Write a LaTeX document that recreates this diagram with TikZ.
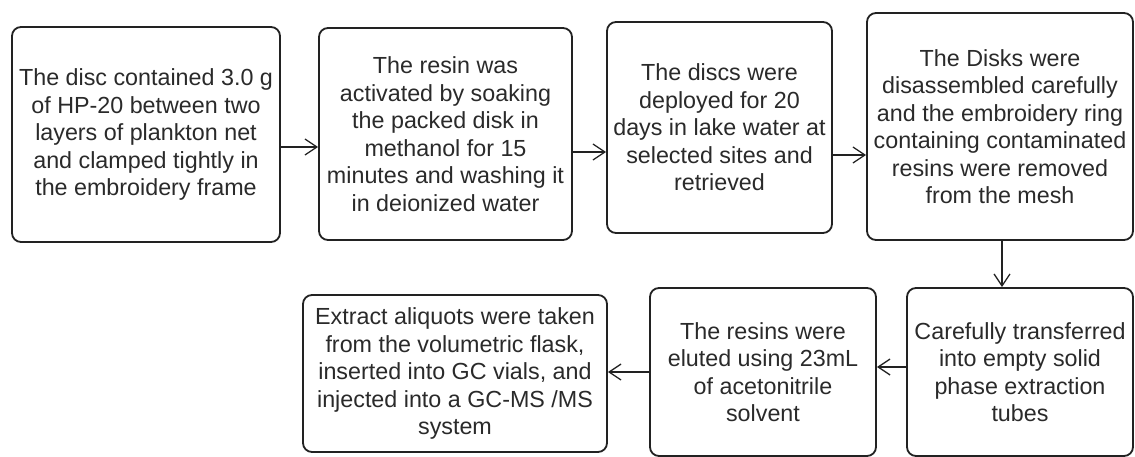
\documentclass[tikz,border=0pt]{standalone}
\usepackage{fontspec}
\setmainfont{Liberation Sans}
\usetikzlibrary{arrows.meta}
\definecolor{ink}{HTML}{222222}
\definecolor{txt}{HTML}{2A2A2A}
\tikzset{
  stepbox/.style={draw=ink, line width=1.8pt, rounded corners=9pt, fill=white,
    align=center, inner sep=0pt, text=txt,
    font=\fontsize{23.3}{27.5}\selectfont},
  arr/.style={draw=ink, line width=1.3pt, -{Straight Barb[length=12pt,width=16pt,line width=1.3pt]}}
}
\begin{document}
\begin{tikzpicture}[x=1pt,y=-1pt]
\useasboundingbox (0,0) rectangle (1135,457);
\fill[white] (0,0) rectangle (1135,457);

\node[stepbox, minimum width=268pt, minimum height=215pt] (b1) at (146,134.5)
  {The disc contained 3.0 g\\of HP-20 between two\\layers of plankton net\\and clamped tightly in\\the embroidery frame};
\node[stepbox, minimum width=253pt, minimum height=212pt] (b2) at (445.5,134)
  {The resin was\\activated by soaking\\the packed disk in\\methanol for 15\\minutes and washing it\\in deionized water};
\node[stepbox, minimum width=225pt, minimum height=211pt] (b3) at (719.5,127.5)
  {The discs were\\deployed for 20\\days in lake water at\\selected sites and\\retrieved};
\node[stepbox, minimum width=266pt, minimum height=227pt] (b4) at (1000,126.5)
  {The Disks were\\disassembled carefully\\and the embroidery ring\\containing contaminated\\resins were removed\\from the mesh};
\node[stepbox, minimum width=226pt, minimum height=168pt] (b5) at (1020,372)
  {Carefully transferred\\into empty solid\\phase extraction\\tubes};
\node[stepbox, minimum width=226pt, minimum height=168pt] (b6) at (763,372)
  {The resins were\\eluted using 23mL\\of acetonitrile\\solvent};
\node[stepbox, minimum width=304pt, minimum height=157pt] (b7) at (455,373.5)
  {Extract aliquots were taken\\from the volumetric flask,\\inserted into GC vials, and\\injected into a GC-MS /MS\\system};

% connectors between the steps
\draw[arr] ([yshift=-12.5pt]b1.east) -- ([yshift=-12.5pt]b1.east -| b2.west);
\draw[arr] ([yshift=-18pt]b2.east) -- ([yshift=-18pt]b2.east -| b3.west);
\draw[arr] ([yshift=-27.5pt]b3.east) -- ([yshift=-27.5pt]b3.east -| b4.west);
\draw[arr] ([xshift=2pt]b4.south) -- ([xshift=2pt]b4.south |- b5.north);
\draw[arr] ([yshift=5pt]b5.west) -- ([yshift=5pt]b5.west -| b6.east);
\draw[arr] (b6.west) -- (b6.west -| b7.east);
\end{tikzpicture}
\end{document}
